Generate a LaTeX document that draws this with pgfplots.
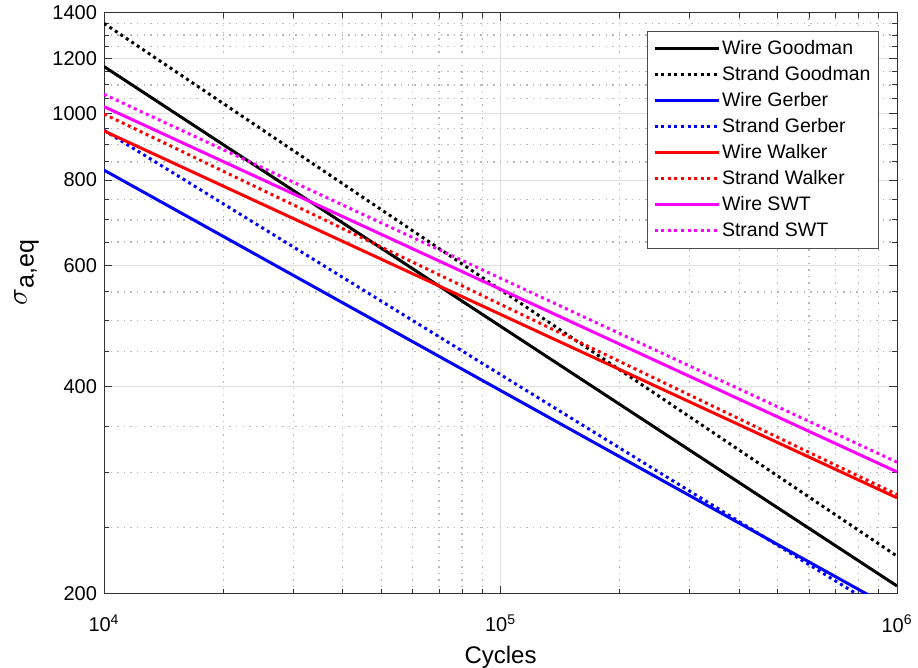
\documentclass[border=0pt]{standalone}
\usepackage{fontspec}
\setmainfont{Liberation Sans}
\usepackage{pgfplots}
\pgfplotsset{compat=1.18}
\definecolor{mblue}{rgb}{0,0,1}
\definecolor{mred}{rgb}{1,0,0}
\definecolor{mmag}{rgb}{1,0,1}
\begin{document}
\begin{tikzpicture}
\begin{axis}[name=ax,
  scale only axis, width=396.5pt, height=290.5pt,
  xmode=log, ymode=log,
  xmin=1e4, xmax=1e6, ymin=200, ymax=1400,
  xtick={1e4,1e5,1e6},
  xticklabels={10\textsuperscript{4},10\textsuperscript{5},10\textsuperscript{6}},
  minor xtick={2e4,3e4,4e4,5e4,6e4,7e4,8e4,9e4,2e5,3e5,4e5,5e5,6e5,7e5,8e5,9e5},
  ytick={200,400,600,800,1000,1200,1400},
  yticklabels={200,400,600,800,1000,1200,1400},
  minor ytick={250,300,350,450,500,550,650,700,750,850,900,950,1050,1100,1150,1250,1300,1350},
  grid=both,
  major grid style={draw=black!12, line width=0.5pt},
  minor grid style={draw=black!28, line width=0.6pt, dash pattern=on 0.7pt off 2.6pt},
  tick align=inside,
  major tick length=4pt, minor tick length=2.5pt,
  tick style={black!80, line width=0.5pt},
  axis line style={black!80, line width=0.5pt},
  ticklabel style={font=\fontsize{10}{12}\selectfont},
  xticklabel style={yshift=-7pt},
  xlabel={Cycles}, 
  ylabel={{\fontsize{15}{17}\selectfont$\sigma$}\raisebox{-3.5pt}{\fontsize{12.5}{14}\selectfont a,eq}},
  label style={font=\fontsize{12}{14}\selectfont},
  every axis y label/.append style={at={(ticklabel cs:0.56)}, xshift=-2pt},
  legend style={at={(1,1)}, anchor=north east, xshift=-9pt, yshift=-9pt,
    draw=black!70, line width=0.5pt, fill=white,
    font=\fontsize{9.75}{11}\selectfont,
    nodes={inner sep=1pt, text height=7.5pt, text depth=2pt},
    row sep=1.5pt, inner xsep=3pt, inner ysep=3pt},
  legend cell align=left,
  legend image code/.code={\draw[#1] (0pt,0pt) -- (32pt,0pt);},
  every axis plot/.append style={line width=1.5pt},
  dotl/.style={dash pattern=on 1.5pt off 1.8pt},
]
\addplot[black, no marks] coordinates {(1e4,1170) (1e6,205.4)};
\addlegendentry{Wire Goodman}
\addplot[black, no marks, dotl] coordinates {(1e4,1352) (1e6,227)};
\addlegendentry{Strand Goodman}
\addplot[mblue, no marks] coordinates {(1e4,827) (1e6,189)};
\addlegendentry{Wire Gerber}
\addplot[mblue, no marks, dotl] coordinates {(1e4,945) (1e6,184)};
\addlegendentry{Strand Gerber}
\addplot[mred, no marks] coordinates {(1e4,943) (1e6,276)};
\addlegendentry{Wire Walker}
\addplot[mred, no marks, dotl] coordinates {(1e4,998) (1e6,279)};
\addlegendentry{Strand Walker}
\addplot[mmag, no marks] coordinates {(1e4,1023) (1e6,301)};
\addlegendentry{Wire SWT}
\addplot[mmag, no marks, dotl] coordinates {(1e4,1066) (1e6,311)};
\addlegendentry{Strand SWT}
\end{axis}
\pgfresetboundingbox
\useasboundingbox ([shift={(-52pt,-37pt)}]ax.south west) rectangle ([shift={(10.5pt,6.5pt)}]ax.north east);
\end{tikzpicture}
\end{document}
